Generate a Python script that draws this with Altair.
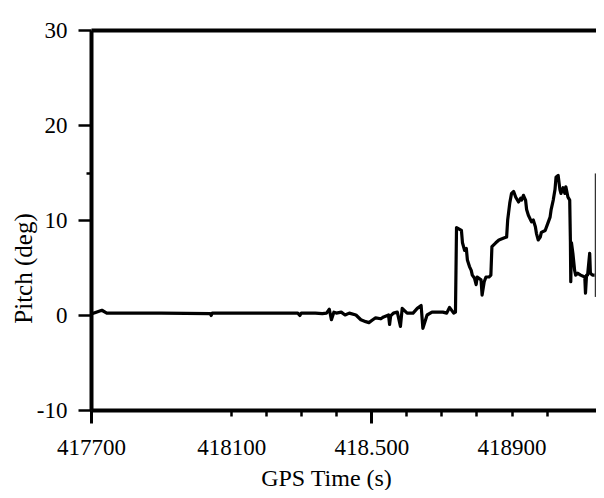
import altair as alt
import pandas as pd

# GPS time (s) and pitch (deg)
gps_time = [
    417700, 417715, 417731, 417745, 417900, 418040, 418043, 418046, 418200, 418290,
    418296, 418300, 418340, 418360, 418372, 418380, 418386, 418393, 418400, 418414,
    418425, 418437, 418456, 418470, 418484, 418493, 418504, 418512, 418527, 418535,
    418549, 418552, 418555, 418563, 418574, 418583, 418588, 418602, 418619, 418631,
    418642, 418647, 418659, 418673, 418690, 418704, 418715, 418723, 418735, 418740,
    418743, 418757, 418760, 418766, 418771, 418774, 418780, 418785, 418788, 418794,
    418799, 418802, 418813, 418816, 418822, 418827, 418836, 418841, 418844, 418855,
    418864, 418878, 418886, 418889, 418895, 418900, 418906, 418912, 418920, 418926,
    418929, 418934, 418940, 418943, 418948, 418957, 418962, 418968, 418971, 418976,
    418982, 418985, 418996, 419004, 419010, 419013, 419019, 419024, 419027, 419033,
    419038, 419041, 419047, 419052, 419055, 419061, 419066, 419068, 419069, 419071,
    419075, 419080, 419083, 419089, 419097, 419109, 419111, 419114, 419117, 419123,
    419125, 419131, 419137,
]
pitch = [
    0.1, 0.3, 0.5, 0.2, 0.2, 0.15, -0.05, 0.2, 0.2, 0.2,
    -0.05, 0.2, 0.2, 0.15, 0.2, 0.6, -0.5, 0.3, 0.2, 0.3,
    0.0, 0.2, 0.0, -0.5, -0.7, -0.8, -0.5, -0.3, -0.4, -0.2,
    0.0, -1.0, -0.1, 0.2, 0.3, -1.2, 0.7, 0.2, 0.2, 0.7,
    1.0, -1.4, 0.0, 0.3, 0.3, 0.3, 0.2, 0.8, 0.2, 0.3,
    9.2, 8.9, 7.6, 6.8, 7.0, 5.8, 5.1, 4.7, 4.2, 3.9,
    3.2, 4.0, 3.7, 2.1, 3.5, 4.0, 4.0, 4.2, 7.2, 7.6,
    7.9, 8.1, 8.2, 10.0, 11.8, 12.8, 13.0, 12.4, 11.9, 12.3,
    12.1, 12.6, 12.1, 11.1, 10.5, 9.8, 10.0, 9.3, 8.6, 7.9,
    8.2, 8.7, 8.9, 9.7, 10.3, 11.1, 12.1, 13.2, 14.5, 14.7,
    13.2, 12.8, 13.4, 12.8, 13.5, 12.4, 12.1, 7.6, 3.5, 7.6,
    6.5, 4.7, 4.2, 4.4, 4.2, 4.0, 2.3, 4.2, 4.2, 6.5,
    4.4, 4.2, 4.2,
]

# thin trace at the right edge
edge_time = [419139]
edge_low = [1.9]
edge_high = [14.9]

# axes
x_label_values = [417700, 418100, 418500, 418900]
x_label_texts = ["417700", "418100", "418.500", "418900"]
x_short_ticks = [418100, 418200, 418300, 418400, 418600, 418700, 418800, 418900, 419000]
x_long_ticks = [417700, 418500]
y_tick_values = [-10, 0, 10, 20, 30]
y_minor_ticks = [15]
x_domain = [417700, 419141]
y_domain = [-10, 30]

FONT = "Liberation Serif"

df = pd.DataFrame({"t": gps_time, "pitch": pitch})
edge_df = pd.DataFrame({"t": edge_time, "lo": edge_low, "hi": edge_high})

label_expr = " : ".join(
    f"datum.value == {v} ? '{s}'" for v, s in zip(x_label_values, x_label_texts)
) + " : ''"

x_scale = alt.Scale(domain=x_domain, nice=False, zero=False)
y_scale = alt.Scale(domain=y_domain, nice=False, zero=False)

line = alt.Chart(df).mark_line(color="black", strokeWidth=3.2, strokeJoin="round").encode(
    x=alt.X(
        "t:Q",
        scale=x_scale,
        axis=alt.Axis(
            orient="bottom",
            values=sorted(set(x_label_values + x_short_ticks)),
            labelExpr=label_expr,
            tickSize=6,
            tickWidth=2.5,
            domainWidth=4,
            labelPadding=20,
            labelFontSize=23,
            labelFont=FONT,
            labelColor="black",
            labelFlush=False,
            labelOverlap=False,
            grid=False,
            title="GPS Time (s)",
            titleFont=FONT,
            titleFontSize=24,
            titleFontWeight="normal",
            titleColor="black",
            titleX=235,
            titleY=75,
            titleBaseline="alphabetic",
        ),
    ),
    y=alt.Y(
        "pitch:Q",
        scale=y_scale,
        axis=alt.Axis(
            orient="left",
            values=y_tick_values,
            labelExpr="datum.value < 0 ? '-' + abs(datum.value) : '' + datum.value",
            tickSize=13,
            tickWidth=2.5,
            domainWidth=4,
            labelPadding=11,
            labelFontSize=23,
            labelFont=FONT,
            labelColor="black",
            labelFlush=False,
            labelOverlap=False,
            grid=False,
            title="Pitch (deg)",
            titleFont=FONT,
            titleFontSize=25,
            titleFontWeight="normal",
            titleColor="black",
            titleX=-68,
            titleY=238,
            titleBaseline="middle",
        ),
    ),
)

edge = alt.Chart(edge_df).mark_rule(color="black", strokeWidth=1).encode(
    x=alt.X(
        "t:Q",
        scale=x_scale,
        axis=alt.Axis(
            orient="bottom",
            values=x_long_ticks,
            tickSize=13,
            tickWidth=3,
            labels=False,
            domain=False,
            grid=False,
            title="",
        ),
    ),
    y=alt.Y(
        "lo:Q",
        scale=y_scale,
        axis=alt.Axis(
            orient="left",
            values=y_minor_ticks,
            tickSize=5,
            tickWidth=2.5,
            labels=False,
            domain=False,
            grid=False,
            title="",
        ),
    ),
    y2="hi:Q",
)

# invisible layer that carries the top frame line
top_frame = alt.Chart(edge_df).mark_rule(opacity=0).encode(
    x=alt.X(
        "t:Q",
        scale=x_scale,
        axis=alt.Axis(
            orient="top",
            domain=True,
            domainWidth=4,
            ticks=False,
            labels=False,
            grid=False,
            title="",
        ),
    ),
)

chart = (
    alt.layer(line, edge, top_frame)
    .resolve_axis(x="independent", y="independent")
    .properties(
        width=505,
        height=380,
        autosize=alt.AutoSizeParams(type="none"),
        padding={"left": 83, "top": 22, "right": 0, "bottom": 80},
        background="white",
    )
    .configure_view(strokeWidth=0)
    .configure_axis(domainColor="black", tickColor="black")
)

chart.save("out.html", embed_options={"renderer": "svg", "actions": False})
